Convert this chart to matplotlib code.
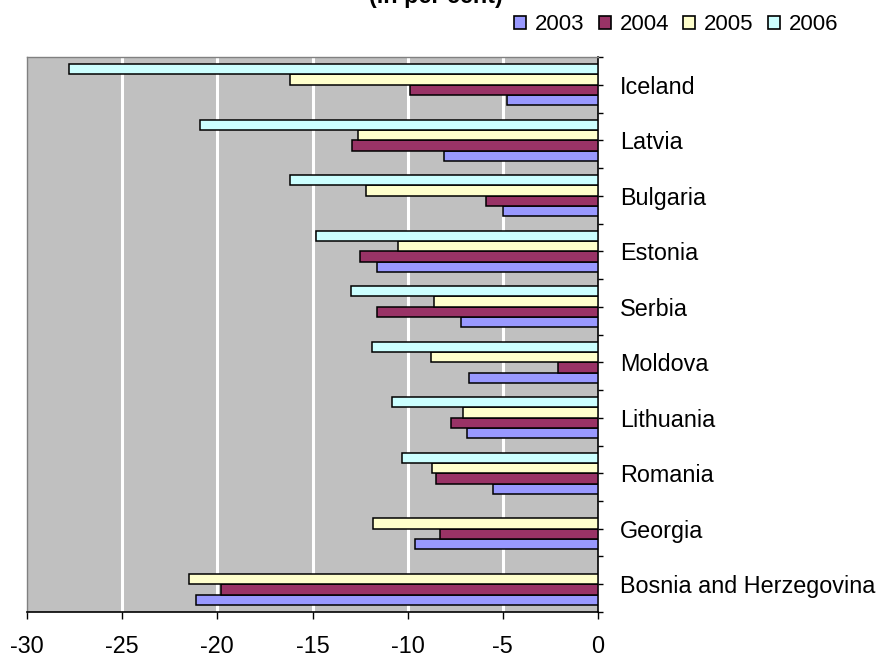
import numpy as np
import matplotlib.pyplot as plt
from matplotlib.patches import Patch

plt.rcParams['font.family'] = ['Liberation Sans', 'DejaVu Sans']
plt.rcParams['axes.unicode_minus'] = False

countries = ["Iceland", "Latvia", "Bulgaria", "Estonia", "Serbia", "Moldova",
             "Lithuania", "Romania", "Georgia", "Bosnia and Herzegovina"]
years = ["2003", "2004", "2005", "2006"]

# current account balance, per cent of GDP (nan = no value)
v2003 = [-4.8, -8.1, -5.0, -11.6, -7.2, -6.8, -6.9, -5.5, -9.6, -21.1]
v2004 = [-9.9, -12.9, -5.9, -12.5, -11.6, -2.1, -7.7, -8.5, -8.3, -19.8]
v2005 = [-16.2, -12.6, -12.2, -10.5, -8.6, -8.8, -7.1, -8.7, -11.8, -21.5]
v2006 = [-27.8, -20.9, -16.2, -14.8, -13.0, -11.9, -10.8, -10.3, np.nan, np.nan]

colors = {"2003": "#9999FF", "2004": "#993366", "2005": "#FFFFCC", "2006": "#CCFFFF"}
series = {"2003": v2003, "2004": v2004, "2005": v2005, "2006": v2006}

fig = plt.figure(figsize=(8.77, 6.57), dpi=100)
ax = fig.add_axes([0.0308, 0.0685, 0.6511, 0.8447])
ax.set_facecolor("#C0C0C0")

h = 0.186
y = np.arange(len(countries))
# top to bottom inside each group: 2006, 2005, 2004, 2003
offsets = {"2006": -1.5 * h, "2005": -0.5 * h, "2004": 0.5 * h, "2003": 1.5 * h}
for yr in years:
    vals = np.array(series[yr], dtype=float)
    ok = ~np.isnan(vals)
    ax.barh(y[ok] + offsets[yr], vals[ok], height=h, color=colors[yr],
            edgecolor="black", linewidth=1.1, zorder=3)

ax.set_xlim(-30, 0)
ax.set_ylim(len(countries) - 0.5, -0.5)
ax.set_xticks(np.arange(-30, 1, 5))
for gx in range(-25, 0, 5):
    ax.axvline(gx, color="white", linewidth=2.2, zorder=1)

ax.yaxis.tick_right()
ax.set_yticks(y)
ax.set_yticklabels(countries)
ax.set_yticks(np.arange(-0.5, len(countries), 1.0), minor=True)
ax.tick_params(axis="y", which="both", direction="out", length=3.6, width=1.0,
               color="black", pad=12, labelsize=16.8)
ax.tick_params(axis="x", direction="out", length=5, width=1.0, color="black",
               pad=11.5, labelsize=16.8)

for s in ["top", "left"]:
    ax.spines[s].set_color("#808080")
    ax.spines[s].set_linewidth(1.0)
for s in ["bottom", "right"]:
    ax.spines[s].set_color("black")
    ax.spines[s].set_linewidth(1.2)

handles = [Patch(facecolor=colors[yr], edgecolor="black", linewidth=1.2, label=yr)
           for yr in years]
fig.legend(handles=handles, loc="center", bbox_to_anchor=(0.771, 0.962), ncol=4,
           frameon=False, fontsize=16, handlelength=0.55, handleheight=0.55,
           handletextpad=0.4, columnspacing=0.63, borderpad=0)

# chart title sits at the very top edge, only its lower part inside the canvas
fig.text(0.497, 1 - 3 / 657, "(in per cent)", ha="center", va="baseline",
         fontsize=16.8, fontweight="bold")

fig.savefig("out.png", dpi=100)
